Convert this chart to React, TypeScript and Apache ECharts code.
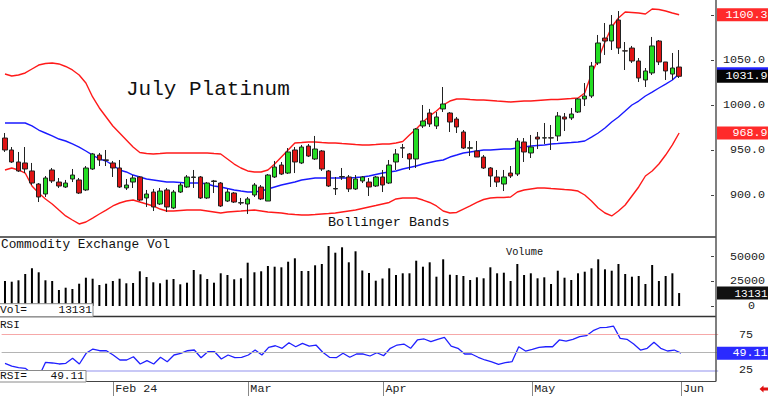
import React, { useEffect, useRef } from 'react';
import * as echarts from 'echarts';

const dates = [
  '2024-01-09','2024-01-10','2024-01-11','2024-01-12','2024-01-16','2024-01-17','2024-01-18','2024-01-19','2024-01-22','2024-01-23',
  '2024-01-24','2024-01-25','2024-01-26','2024-01-29','2024-01-30','2024-01-31',
  '2024-02-01','2024-02-02','2024-02-05','2024-02-06','2024-02-07','2024-02-08','2024-02-09','2024-02-12','2024-02-13','2024-02-14',
  '2024-02-15','2024-02-16','2024-02-20','2024-02-21','2024-02-22','2024-02-23','2024-02-26','2024-02-27','2024-02-28','2024-02-29',
  '2024-03-01','2024-03-04','2024-03-05','2024-03-06','2024-03-07','2024-03-08','2024-03-11','2024-03-12','2024-03-13','2024-03-14',
  '2024-03-15','2024-03-18','2024-03-19','2024-03-20','2024-03-21','2024-03-22','2024-03-25','2024-03-26','2024-03-27','2024-03-28',
  '2024-04-01','2024-04-02','2024-04-03','2024-04-04','2024-04-05','2024-04-08','2024-04-09','2024-04-10','2024-04-11','2024-04-12',
  '2024-04-15','2024-04-16','2024-04-17','2024-04-18','2024-04-19','2024-04-22','2024-04-23','2024-04-24','2024-04-25','2024-04-26',
  '2024-04-29','2024-04-30',
  '2024-05-01','2024-05-02','2024-05-03','2024-05-06','2024-05-07','2024-05-08','2024-05-09','2024-05-10','2024-05-13','2024-05-14',
  '2024-05-15','2024-05-16','2024-05-17','2024-05-20','2024-05-21','2024-05-22','2024-05-23','2024-05-24','2024-05-28','2024-05-29',
  '2024-05-30','2024-05-31',
  '2024-06-03',
];

const tickDates = ['2024-02-01', '2024-03-01', '2024-04-01', '2024-05-01', '2024-06-03'];
const tickLabels = ['Feb 24', 'Mar', 'Apr', 'May', 'Jun'];

const opens = [
  963.3, 950.0, 936.7, 935.6, 926.7, 912.2, 901.1, 927.8, 914.4, 908.9,
  917.8, 916.7, 905.6, 928.9, 944.4, 939.0, 935.6, 930.0, 907.8, 914.4,
  920.0, 896.7, 903.3, 890.0, 905.6, 885.6, 903.3, 908.9, 919.5, 920.0,
  896.7, 915.0, 913.3, 893.3, 902.2, 891.1, 890.0, 900.0, 908.9, 893.3,
  920.0, 933.3, 924.4, 950.0, 935.6, 954.4, 940.0, 948.9, 926.7, 906.7,
  920.0, 920.0, 906.7, 915.6, 914.4, 910.0, 920.0, 913.3, 936.7, 952.5,
  945.6, 940.0, 976.7, 991.1, 976.7, 995.6, 991.1, 984.4, 970.0, 952.0,
  948.9, 942.2, 930.0, 920.0, 912.2, 924.4, 923.3, 958.9, 946.7, 964.4,
  963.3, 963.6, 965.6, 986.7, 985.6, 992.2, 1006.7, 1010.0, 1046.7, 1074.4,
  1071.1, 1094.4, 1060.2, 1063.3, 1048.9, 1027.8, 1035.6, 1071.1, 1047.8, 1034.4,
  1042.2,
];
const closes = [
  950.0, 936.7, 926.7, 928.9, 913.3, 897.8, 918.9, 915.6, 910.0, 913.3,
  922.2, 902.2, 930.0, 945.6, 938.9, 938.5, 930.0, 908.9, 911.1, 918.9,
  894.4, 901.1, 886.7, 904.4, 886.7, 903.3, 911.1, 920.0, 920.0, 896.7,
  913.3, 915.6, 887.8, 903.3, 892.2, 891.5, 895.6, 911.1, 895.6, 922.2,
  931.1, 923.3, 947.8, 936.7, 953.3, 943.3, 951.1, 928.9, 910.0, 907.2,
  920.5, 906.7, 917.8, 920.0, 908.9, 920.0, 911.1, 933.3, 945.6, 952.2,
  940.0, 973.3, 982.2, 978.9, 986.7, 1001.1, 981.1, 975.6, 952.2, 952.5,
  942.2, 930.0, 921.1, 914.4, 920.0, 921.1, 960.0, 947.8, 953.3, 962.2,
  963.6, 963.3, 987.8, 984.4, 990.0, 1006.7, 1010.0, 1043.3, 1068.9, 1071.1,
  1088.9, 1063.3, 1060.0, 1048.9, 1030.0, 1037.8, 1065.6, 1047.8, 1037.8, 1041.1,
  1031.9,
];
const highs = [
  968.9, 953.3, 947.8, 953.3, 935.6, 913.3, 921.1, 930.0, 918.9, 916.7,
  928.9, 918.9, 932.2, 946.7, 946.7, 950.0, 937.8, 938.9, 917.8, 922.2,
  921.1, 905.6, 906.7, 907.8, 907.8, 905.6, 913.3, 922.2, 927.8, 921.1,
  914.4, 916.7, 914.4, 906.7, 903.3, 896.7, 897.8, 913.3, 911.1, 923.3,
  937.8, 936.7, 952.2, 953.3, 955.6, 956.7, 965.6, 950.0, 927.8, 920.0,
  930.0, 922.2, 922.2, 921.1, 918.9, 921.1, 927.8, 938.9, 951.1, 956.7,
  946.7, 974.4, 1000.0, 995.6, 992.2, 1020.0, 992.2, 986.7, 972.2, 960.0,
  960.0, 944.4, 931.1, 927.8, 927.8, 932.2, 963.3, 963.3, 966.7, 970.0,
  980.0, 977.8, 992.2, 991.1, 996.7, 1007.8, 1024.4, 1047.8, 1077.8, 1091.1,
  1100.0, 1104.4, 1070.0, 1065.6, 1052.2, 1041.1, 1075.6, 1072.2, 1047.8, 1057.8,
  1061.1,
];
const lows = [
  947.8, 935.6, 925.6, 924.4, 911.1, 892.2, 897.8, 913.3, 907.8, 907.8,
  914.4, 901.1, 904.4, 927.8, 932.2, 932.2, 920.0, 907.8, 905.6, 907.8,
  893.3, 886.7, 882.2, 888.9, 881.1, 884.4, 902.2, 907.8, 907.8, 895.6,
  895.6, 902.2, 886.7, 892.2, 891.1, 888.9, 878.9, 897.8, 894.4, 893.3,
  918.9, 922.2, 923.3, 924.4, 934.4, 942.2, 938.9, 926.7, 908.9, 900.0,
  916.7, 903.3, 905.6, 913.3, 898.9, 908.9, 903.3, 912.2, 927.8, 941.1,
  927.8, 930.0, 974.4, 975.6, 973.3, 992.2, 970.0, 968.9, 951.1, 943.3,
  942.2, 928.9, 908.9, 908.9, 904.4, 918.9, 921.1, 936.7, 941.1, 951.1,
  956.7, 950.0, 960.0, 971.1, 983.3, 991.1, 998.9, 1007.8, 1044.4, 1055.6,
  1061.1, 1056.7, 1038.9, 1046.7, 1025.6, 1020.0, 1033.3, 1044.4, 1027.8, 1027.8,
  1030.0,
];

const upperBand = [
  1034.4, 1032.2, 1033.3, 1035.6, 1040.0, 1044.4, 1046.1, 1046.7, 1045.6, 1042.8,
  1038.9, 1033.3, 1024.4, 1008.9, 996.7, 986.7, 976.7, 968.9, 961.1, 953.3,
  947.2, 946.1, 945.6, 946.1, 946.7, 946.7, 946.7, 946.7, 946.7, 946.7,
  946.7, 946.1, 945.6, 940.0, 934.4, 930.0, 926.7, 925.6, 925.6, 927.8,
  934.4, 942.2, 950.0, 957.8, 958.3, 958.9, 958.9, 958.3, 957.8, 957.8,
  957.2, 956.7, 956.1, 955.6, 955.6, 956.1, 956.7, 956.7, 957.8, 959.4,
  966.7, 973.3, 981.1, 987.8, 993.3, 1000.0, 1004.4, 1006.7, 1006.7, 1006.1,
  1005.6, 1005.6, 1005.0, 1004.4, 1003.9, 1003.3, 1003.9, 1004.4, 1004.4, 1005.0,
  1005.6, 1006.1, 1006.1, 1006.7, 1007.2, 1007.8, 1013.3, 1034.4, 1051.1, 1070.0,
  1086.7, 1096.7, 1103.3, 1102.8, 1102.2, 1101.1, 1106.7, 1106.1, 1104.4, 1102.2,
  1100.3,
];
const middleBand = [
  980.0, 980.0, 980.0, 980.0, 976.7, 972.2, 968.9, 965.6, 962.2, 960.0,
  956.7, 953.3, 948.9, 944.4, 940.0, 937.8, 933.3, 927.8, 925.6, 922.2,
  920.0, 917.8, 916.7, 915.6, 914.4, 914.4, 913.9, 913.3, 913.3, 913.3,
  912.2, 910.0, 908.9, 907.2, 905.6, 904.4, 903.3, 903.3, 904.4, 906.7,
  908.9, 911.1, 912.8, 914.4, 916.7, 917.8, 918.9, 918.9, 918.9, 918.9,
  918.9, 918.9, 919.4, 920.0, 921.1, 922.8, 924.4, 925.6, 926.7, 928.9,
  930.6, 932.2, 934.4, 936.1, 937.8, 938.9, 942.2, 944.4, 946.7, 947.8,
  948.9, 950.0, 950.0, 950.6, 951.1, 951.1, 952.2, 953.3, 954.4, 955.0,
  955.6, 956.7, 957.2, 957.8, 958.3, 958.9, 960.0, 964.4, 968.9, 974.4,
  981.1, 986.7, 993.3, 1000.0, 1004.4, 1010.0, 1014.4, 1018.9, 1023.3, 1027.8,
  1034.6,
];
const lowerBand = [
  927.8, 930.0, 927.8, 924.4, 910.0, 902.2, 895.6, 890.0, 883.3, 876.7,
  872.2, 867.8, 870.0, 874.4, 878.9, 883.3, 887.8, 891.1, 893.3, 894.4,
  892.2, 890.0, 887.8, 884.4, 882.2, 882.2, 882.8, 883.3, 883.3, 883.3,
  882.2, 881.1, 880.0, 881.1, 881.7, 882.2, 882.8, 883.3, 882.2, 881.1,
  880.6, 880.0, 878.9, 878.3, 877.8, 877.8, 878.3, 878.9, 879.4, 880.0,
  881.1, 882.2, 883.3, 885.0, 886.7, 888.3, 890.0, 891.7, 895.6, 896.7,
  896.7, 896.7, 894.4, 891.7, 887.8, 882.2, 880.0, 880.6, 884.4, 887.8,
  891.7, 895.0, 896.7, 897.2, 897.2, 897.8, 903.3, 905.6, 906.7, 907.8,
  907.8, 907.2, 906.7, 906.1, 905.6, 904.4, 900.0, 893.3, 885.6, 880.0,
  876.7, 882.2, 888.9, 898.9, 908.9, 921.1, 926.7, 934.4, 944.4, 955.6,
  968.9,
];

const volumes = [
  25350, 24640, 26060, 32450, 38230, 34170, 26060, 25350, 16220, 18560,
  17240, 22610, 28700, 27680, 21290, 22610, 25350, 27680, 23020, 23320,
  35190, 29410, 24030, 23020, 26670, 27380, 22000, 23630, 36500, 32140,
  27380, 23630, 33160, 31430, 27070, 28090, 43910, 34170, 35190, 40560,
  39850, 39240, 44920, 48370, 35490, 35490, 41270, 42590, 60840, 54050,
  59520, 44310, 55470, 36000, 33460, 25650, 27890, 38230, 31430, 33160,
  33160, 45930, 39850, 44310, 29710, 47350, 31740, 31430, 30420, 26360,
  29100, 28090, 39240, 33160, 33770, 25350, 42590, 31430, 33160, 28090,
  29100, 22310, 35790, 28700, 26360, 33160, 34780, 38230, 47350, 37210,
  35790, 42590, 32450, 29710, 30420, 22310, 41570, 25350, 30420, 33160,
  13131,
];

const rsi = [
  34.8, 31.0, 28.7, 27.8, 20.5, 16.0, 36.2, 35.3, 33.9, 34.8,
  41.9, 33.9, 48.9, 54.9, 52.5, 52.5, 46.5, 39.5, 39.5, 44.1,
  33.9, 38.5, 33.9, 43.3, 37.1, 46.5, 48.9, 52.5, 53.5, 42.7,
  51.1, 51.1, 40.9, 46.5, 42.7, 43.3, 46.5, 53.5, 46.5, 57.3,
  59.5, 55.9, 63.8, 58.1, 62.9, 59.1, 60.5, 50.3, 43.3, 42.7,
  48.9, 43.3, 47.9, 47.9, 45.1, 49.7, 45.5, 55.9, 60.5, 61.9,
  55.9, 67.6, 69.0, 65.2, 68.5, 71.3, 59.1, 55.9, 47.9, 47.9,
  43.3, 39.5, 36.7, 33.4, 35.7, 37.1, 58.1, 52.1, 54.5, 57.3,
  58.1, 58.1, 67.6, 66.1, 68.5, 72.2, 73.6, 80.6, 84.8, 85.4,
  87.2, 69.9, 68.5, 61.9, 53.5, 55.9, 64.3, 55.9, 52.1, 53.5,
  49.11,
];

// tick labels visible in the reference (1100 and 50 sit under the value markers)
const priceTicks = [900, 950, 1000, 1050];
const priceTickMarks = [900, 950, 1000, 1050, 1100];
const volumeTicks = [0, 25000, 50000];
const rsiTicks = [25, 75];
const rsiTickMarks = [25, 50, 75];
const rsiLevels = [75, 50, 25];

const FONT = "'Liberation Mono', 'DejaVu Sans Mono', monospace";
const EMPTY_SLOTS = 5;

export default function App() {
  const ref = useRef<HTMLDivElement>(null);

  useEffect(() => {
    if (!ref.current) return;
    const chart = echarts.init(ref.current, null, { renderer: 'svg' });

    const categories = [...dates, ...Array.from({ length: EMPTY_SLOTS }, (_, i) => `pad${i}`)];
    const candles = dates.map((_, i) => [opens[i], closes[i], lows[i], highs[i]]);
    const isTick = (_idx: number, value: string) => tickDates.indexOf(value) >= 0;

    const gridCommon = { left: 1.62, right: 49.8 };
    const hiddenX = (gi: number) => ({
      type: 'category',
      gridIndex: gi,
      data: categories,
      boundaryGap: true,
      axisLine: { show: false },
      axisTick: { show: false },
      axisLabel: { show: false },
      splitLine: { show: false },
    });
    const yCommon = (
      gi: number,
      ticks: number[],
      tickMarks: number[],
      margin: number,
      fmt: (v: number) => string,
      min: number,
      max: number,
      rich?: any,
    ) => ({
      type: 'value',
      gridIndex: gi,
      position: 'right',
      offset: -2.2,
      min,
      max,
      splitLine: { show: false },
      axisLine: { show: false },
      axisTick: { show: true, inside: true, length: 3, customValues: tickMarks, lineStyle: { color: '#444' } },
      axisLabel: {
        customValues: ticks,
        formatter: fmt,
        align: 'right',
        margin,
        fontSize: 11.7,
        fontFamily: FONT,
        color: '#222',
        ...(rich ? { rich } : {}),
      },
    });

    const option: any = {
      animation: false,
      backgroundColor: '#ffffff',
      grid: [
        { ...gridCommon, top: 0, height: 237 },
        { ...gridCommon, top: 237, height: 79.5 },
        { ...gridCommon, top: 316.5, height: 65 },
      ],
      xAxis: [
        hiddenX(0),
        hiddenX(1),
        {
          type: 'category',
          gridIndex: 2,
          data: categories,
          boundaryGap: true,
          axisLine: { show: false },
          axisTick: {
            show: true,
            alignWithLabel: true,
            interval: isTick,
            length: 14.5,
            lineStyle: { color: '#888', width: 1 },
          },
          axisLabel: {
            show: true,
            interval: isTick,
            formatter: (v: string) => {
              const k = tickDates.indexOf(v);
              return k >= 0 ? tickLabels[k] : '';
            },
            align: 'left',
            padding: [0, 0, 0, 2],
            margin: 1,
            fontSize: 11.7,
            fontFamily: FONT,
            color: '#222',
          },
          splitLine: { show: false },
        },
      ],
      yAxis: [
        yCommon(0, priceTicks, priceTickMarks, 51, (v: number) => v.toFixed(1), 853.33, 1116.67),
        yCommon(
          1,
          volumeTicks,
          volumeTicks,
          51,
          (v: number) => (v === 0 ? '{z|0}' : String(v)),
          -10650,
          69970,
          { z: { padding: [0, 10, 0, 0], fontSize: 11.7, fontFamily: FONT, color: '#222' } },
        ),
        yCommon(2, rsiTicks, rsiTickMarks, 37, (v: number) => String(v), 9.3, 100.56),
      ],
      series: [
        {
          type: 'line',
          xAxisIndex: 0,
          yAxisIndex: 0,
          data: upperBand,
          symbol: 'none',
          lineStyle: { color: '#ff1a1a', width: 1.4 },
          z: 3,
        },
        {
          type: 'line',
          xAxisIndex: 0,
          yAxisIndex: 0,
          data: lowerBand,
          symbol: 'none',
          lineStyle: { color: '#ff1a1a', width: 1.4 },
          z: 3,
        },
        {
          type: 'line',
          xAxisIndex: 0,
          yAxisIndex: 0,
          data: middleBand,
          symbol: 'none',
          lineStyle: { color: '#1a1aff', width: 1.4 },
          z: 3,
        },
        {
          type: 'candlestick',
          xAxisIndex: 0,
          yAxisIndex: 0,
          data: candles,
          barWidth: 5,
          itemStyle: {
            color: '#22dd22',
            color0: '#e01414',
            borderColor: '#222',
            borderColor0: '#222',
            borderWidth: 1,
          },
          z: 4,
        },
        {
          type: 'bar',
          xAxisIndex: 1,
          yAxisIndex: 1,
          data: volumes,
          barWidth: 2,
          itemStyle: { color: '#000' },
        },
        {
          type: 'line',
          xAxisIndex: 2,
          yAxisIndex: 2,
          data: rsi,
          symbol: 'none',
          lineStyle: { color: '#2020ff', width: 1.3 },
          z: 4,
          markLine: {
            silent: true,
            symbol: ['none', 'none'],
            label: { show: false },
            data: rsiLevels.map((lv) => ({
              yAxis: lv,
              lineStyle: {
                type: 'solid',
                color: lv === 75 ? '#f6a8a8' : lv === 50 ? '#b4b4b4' : '#c8c8f6',
                width: lv === 25 ? 2 : 1,
              },
            })),
          },
        },
      ],
    };

    chart.setOption(option);

    const last = dates.length - 1;
    const py = (axis: number, v: number) => chart.convertToPixel({ yAxisIndex: axis } as any, v) as number;
    // the middle-band marker is almost fully covered by the close marker, so it carries no text
    const markers = [
      { axis: 0, value: middleBand[last], bg: '#2222ff', text: '', size: 11.7, dy: 0 },
      { axis: 0, value: upperBand[last], bg: '#ff2a2a', text: upperBand[last].toFixed(1), size: 11.7, dy: 0 },
      { axis: 0, value: lowerBand[last], bg: '#ff2a2a', text: lowerBand[last].toFixed(1), size: 11.7, dy: 0 },
      { axis: 0, value: closes[last], bg: '#050505', text: closes[last].toFixed(1), size: 11.7, dy: 0 },
      { axis: 1, value: volumes[last], bg: '#111', text: String(volumes[last]), size: 11, dy: 0.8 },
      { axis: 2, value: rsi[last], bg: '#2a2aff', text: rsi[last].toFixed(2), size: 11.7, dy: 0 },
    ];

    const txt = (text: string, x: number, y: number, size: number, extra: any = {}) => ({
      type: 'text',
      x,
      y,
      z: 100,
      silent: true,
      style: {
        text,
        fontSize: size,
        fontFamily: FONT,
        fill: '#111',
        align: 'left',
        verticalAlign: 'middle',
        ...extra,
      },
    });
    const hline = (y: number, x1: number, x2: number, color: string, w: number) => ({
      type: 'line',
      z: 90,
      silent: true,
      shape: { x1, y1: y, x2, y2: y },
      style: { stroke: color, lineWidth: w },
    });

    const elements: any[] = [
      hline(237, 0, 716, '#333', 1.5),
      hline(316.5, 0, 716, '#333', 1.5),
      hline(381.5, 0, 716, '#444', 1.2),
      {
        type: 'line',
        z: 90,
        silent: true,
        shape: { x1: 716, y1: 0, x2: 716, y2: 381.5 },
        style: { stroke: '#555', lineWidth: 1.5 },
      },
      txt('July Platinum', 126, 89.5, 21),
      txt('Bollinger Bands', 328, 222.5, 13.5),
      txt('Commodity Exchange Vol', 1, 244, 12.8),
      txt('Volume', 506, 252, 10.3),
      {
        type: 'rect',
        z: 95,
        silent: true,
        shape: { x: -1, y: 303.7, width: 94, height: 13 },
        style: { fill: '#fff', stroke: '#8a8a8a', lineWidth: 1 },
      },
      txt('Vol=', 0, 310, 11.2),
      txt(String(volumes[last]), 92, 310, 11.2, { align: 'right' }),
      txt('RSI', 0, 325, 11),
      {
        type: 'rect',
        z: 95,
        silent: true,
        shape: { x: -1, y: 370.5, width: 87, height: 11.5 },
        style: { fill: '#fff', stroke: '#8a8a8a', lineWidth: 1 },
      },
      txt('RSI=', 0, 376, 11.2),
      txt(rsi[last].toFixed(2), 84, 376, 11.2, { align: 'right' }),
      {
        type: 'polygon',
        z: 100,
        silent: true,
        shape: {
          points: [
            [759.5, 389], [763.5, 385.5], [763.5, 387.6], [768, 387.6],
            [768, 390.4], [763.5, 390.4], [763.5, 392.5],
          ],
        },
        style: { fill: '#e01010' },
      },
    ];

    markers.forEach((m) => {
      const y = py(m.axis, m.value);
      elements.push({
        type: 'rect',
        z: 100,
        silent: true,
        shape: { x: 717, y: y - 6.5, width: 52, height: 13 },
        style: { fill: m.bg },
      });
      if (m.text) {
        elements.push(txt(m.text, 767.5, y + m.dy, m.size, { align: 'right', fill: '#fff' }));
      }
    });

    chart.setOption({ graphic: { elements } });

    return () => {
      chart.dispose();
    };
  }, []);

  return (
    <div
      ref={ref}
      style={{ position: 'absolute', left: 0, top: 0, width: 768, height: 396, background: '#fff' }}
    />
  );
}
